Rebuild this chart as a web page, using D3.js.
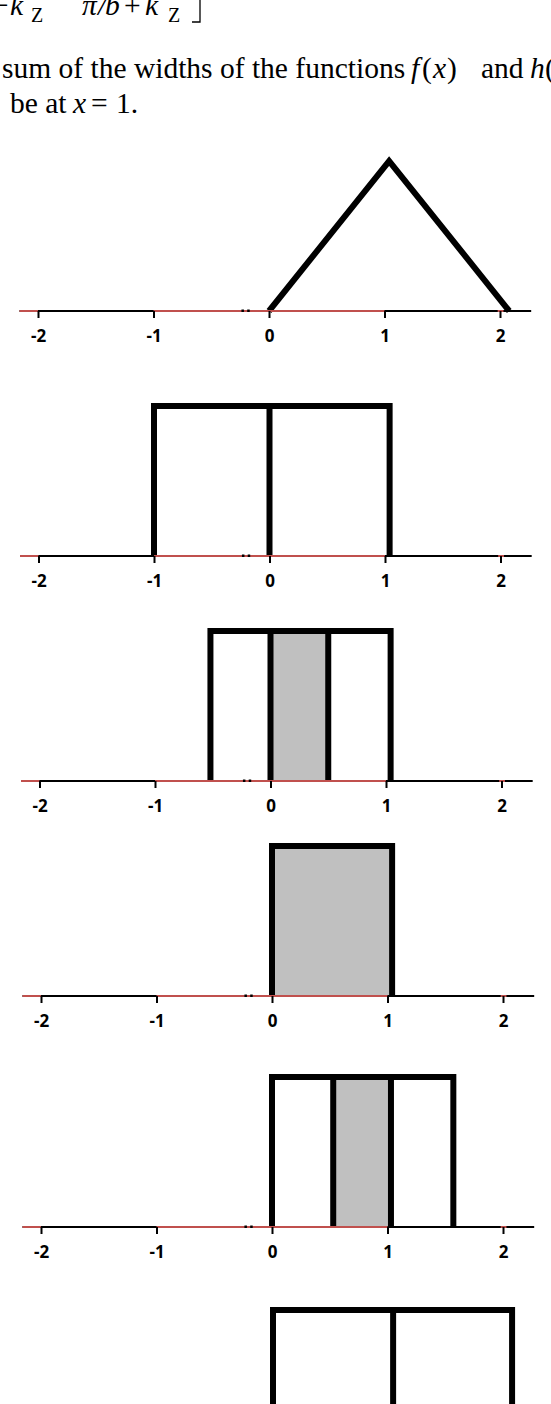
<!DOCTYPE html>
<html>
<head>
<meta charset="utf-8">
<script src="https://cdn.jsdelivr.net/npm/d3@7/dist/d3.min.js"></script>
<style>
  html, body { margin: 0; padding: 0; background: #fff; }
  svg { display: block; }
</style>
</head>
<body>
<svg id="chart" width="551" height="1404"></svg>
<script>
// ---------------- DATA ----------------
const xTicks = [-2, -1, 0, 1, 2];
const tickLabels = ["-2", "-1", "0", "1", "2"];
const axisExtent = [-2.16, 2.27];
const redSegments = [[-2.16, -2], [-1, 1], [1.98, 2.03]];
const dotXs = [-0.23, -0.18];

// panel 1: triangle (x, height)
const triangleX = [0, 1.04, 2.08];
const triangleY = [0, 1, 0];

// panels 2..6: vertical edges of the boxes and shaded interval
const boxEdges2 = [-1, 0, 1.04];
const boxEdges3 = [-0.52, 0, 0.5, 1.04];
const boxEdges4 = [0, 1.04];
const boxEdges5 = [0, 0.53, 1.03, 1.57];
const boxEdges6 = [0, 1.04, 2.07];
const shade3 = [0, 0.5];
const shade4 = [0, 1.04];
const shade5 = [0.53, 1.03];
const boxHeight = 1;

// ---------------- LAYOUT ----------------
const unit = 115.5;
const panels = [
  { axisY: 311, x0: 269, type: "tri" },
  { axisY: 556, x0: 269.5, type: "box", edges: boxEdges2, shade: null },
  { axisY: 781, x0: 270.5, type: "box", edges: boxEdges3, shade: shade3 },
  { axisY: 996, x0: 272, type: "box", edges: boxEdges4, shade: shade4 },
  { axisY: 1227, x0: 272, type: "box", edges: boxEdges5, shade: shade5 },
  { axisY: 1460, x0: 273, type: "box", edges: boxEdges6, shade: null }
];
const panelH = 150;
const strokeW = 6;

const svg = d3.select("#chart");

// ---------------- TEXT ----------------
const serif = "'Liberation Serif', 'Times New Roman', serif";
function run(sel, x, y, txt, opts) {
  const o = opts || {};
  const t = sel.append("tspan").attr("x", x).attr("y", y).text(txt);
  if (o.it) t.attr("font-style", "italic");
  if (o.fs) t.attr("font-size", o.fs);
  return t;
}
const t0 = svg.append("text").attr("font-family", serif).attr("font-size", 29.5).attr("fill", "#000");
run(t0, -8, 15, "\u2212");
run(t0, 10, 15, "k", { it: true });
run(t0, 31, 22, "Z", { fs: 20 });
run(t0, 82, 15, "\u03C0", { it: true });
run(t0, 98, 15, "/", { it: true });
run(t0, 105, 15, "b", { it: true });
run(t0, 124, 15, "+");
run(t0, 145, 15, "k", { it: true });
run(t0, 168, 22, "Z", { fs: 20 });
// right floor bracket
svg.append("path").attr("d", "M200,0 V22 H192").attr("fill", "none").attr("stroke", "#000").attr("stroke-width", 1.3);

const t1 = svg.append("text").attr("font-family", serif).attr("font-size", 29.5).attr("fill", "#000");
run(t1, 2, 78, "sum of the widths of the functions");
run(t1, 411, 78, "f", { it: true });
run(t1, 422, 78, "(");
run(t1, 433, 78, "x", { it: true });
run(t1, 447, 78, ")");
run(t1, 481, 78, "and");
run(t1, 530, 78, "h", { it: true });
run(t1, 545, 78, "(");

const t2 = svg.append("text").attr("font-family", serif).attr("font-size", 29.5).attr("fill", "#000");
run(t2, 10, 113, "be at");
run(t2, 73, 113, "x", { it: true });
run(t2, 91, 113, "=");
run(t2, 116, 113, "1.");

// ---------------- PANELS ----------------
panels.forEach((p) => {
  const x = d3.scaleLinear().domain([-2, 2]).range([p.x0 - 2 * unit, p.x0 + 2 * unit]);
  const y = d3.scaleLinear().domain([0, 1]).range([p.axisY, p.axisY - panelH]);
  const g = svg.append("g");

  if (p.type === "tri") {
    const pts = triangleX.map((d, i) => [d, triangleY[i]]);
    g.append("path")
      .attr("d", d3.line().x(d => x(d[0])).y(d => y(d[1]))(pts))
      .attr("fill", "none").attr("stroke", "#000")
      .attr("stroke-width", strokeW).attr("stroke-linejoin", "miter");
  } else {
    if (p.shade) {
      g.append("rect")
        .attr("x", x(p.shade[0])).attr("width", x(p.shade[1]) - x(p.shade[0]))
        .attr("y", y(boxHeight)).attr("height", y(0) - y(boxHeight))
        .attr("fill", "#c0c0c0");
    }
    const e = p.edges;
    const outer = [[e[0], 0], [e[0], boxHeight], [e[e.length - 1], boxHeight], [e[e.length - 1], 0]];
    g.append("path")
      .attr("d", d3.line().x(d => x(d[0])).y(d => y(d[1]))(outer))
      .attr("fill", "none").attr("stroke", "#000")
      .attr("stroke-width", strokeW).attr("stroke-linejoin", "miter");
    g.selectAll("line.inner").data(e.slice(1, -1)).enter().append("line")
      .attr("x1", d => x(d)).attr("x2", d => x(d))
      .attr("y1", y(0)).attr("y2", y(boxHeight))
      .attr("stroke", "#000").attr("stroke-width", strokeW);
  }

  // axis line
  g.append("line")
    .attr("x1", x(axisExtent[0])).attr("x2", x(axisExtent[1]))
    .attr("y1", p.axisY).attr("y2", p.axisY)
    .attr("stroke", "#000").attr("stroke-width", 2);
  g.selectAll("line.red").data(redSegments).enter().append("line")
    .attr("x1", d => x(d[0])).attr("x2", d => x(d[1]))
    .attr("y1", p.axisY).attr("y2", p.axisY)
    .attr("stroke", "#c0504d").attr("stroke-width", 2);
  g.selectAll("rect.dot").data(dotXs).enter().append("rect")
    .attr("x", d => x(d) - 1).attr("y", p.axisY - 1.5)
    .attr("width", 2.5).attr("height", 2.5).attr("fill", "#000");

  // ticks + labels through d3 axis
  const ax = d3.axisBottom(x).tickValues(xTicks)
    .tickFormat((d, i) => tickLabels[i]).tickSize(7).tickPadding(12);
  const ag = g.append("g").attr("transform", `translate(0,${p.axisY})`).call(ax);
  ag.attr("font-size", null).attr("font-family", null);
  ag.select(".domain").remove();
  ag.selectAll(".tick line").attr("stroke", "#000").attr("stroke-width", 2);
  ag.selectAll(".tick text")
    .style("font-family", "'Open Sans', 'Liberation Sans', Arial, sans-serif")
    .style("font-weight", "700").style("font-size", "17px").attr("fill", "#000");
});
</script>
</body>
</html>
